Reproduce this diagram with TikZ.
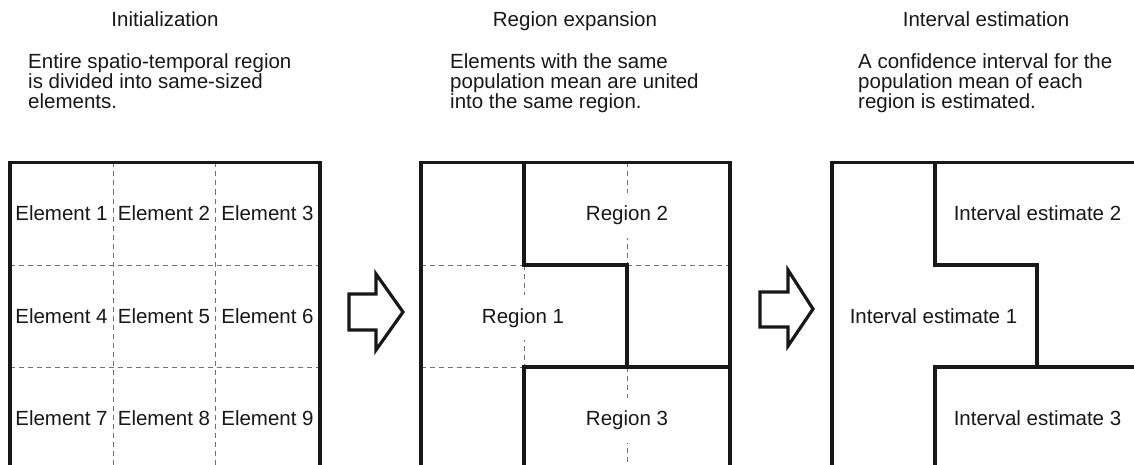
\documentclass[tikz,border=0pt]{standalone}
\usepackage{fontspec}
\setmainfont{Liberation Sans}
\definecolor{ink}{HTML}{1A1718}
\definecolor{dashgray}{HTML}{707070}
\begin{document}
\begin{tikzpicture}[x=1pt,y=-1pt,
  txt/.style={font=\fontsize{20.5}{20.5}\selectfont, text=ink, inner sep=0pt, anchor=base},
  lefttxt/.style={txt, anchor=base west},
  celltxt/.style={txt},
  gaptxt/.style={txt, fill=white, inner xsep=2pt, inner ysep=13pt},
  heavy/.style={draw=ink, line width=3.2pt, line join=miter, line cap=butt},
  grid/.style={draw=dashgray, line width=1pt, dash pattern=on 5pt off 4pt},
  bigarrow/.style={draw=ink, line width=3.2pt, line join=miter, fill=white}]
\clip (0,0) rectangle (1134,465);
\fill[white] (0,0) rectangle (1134,465);

% ---------- headers ----------
\node[txt] (h1) at (165,27) {Initialization};
\node[txt] (h2) at (575,27) {Region expansion};
\node[txt] (h3) at (986,27) {Interval estimation};

% ---------- descriptions ----------
\node[lefttxt] (d1a) at (28,68.5) {Entire spatio-temporal region};
\node[lefttxt] (d1b) at (28,88.5) {is divided into same-sized};
\node[lefttxt] (d1c) at (28,108.5) {elements.};
\node[lefttxt] (d2a) at (450,68.5) {Elements with the same};
\node[lefttxt] (d2b) at (450,88.5) {population mean are united};
\node[lefttxt] (d2c) at (450,108.5) {into the same region.};
\node[lefttxt] (d3a) at (858,68.5) {A confidence interval for the};
\node[lefttxt] (d3b) at (858,88.5) {population mean of each};
\node[lefttxt] (d3c) at (858,108.5) {region is estimated.};

% ---------- panel 1 ----------
\draw[grid] (113,162.5) -- (113,470);
\draw[grid] (215,162.5) -- (215,470);
\draw[grid] (10,265) -- (320,265);
\draw[grid] (10,367) -- (320,367);
\draw[heavy] (10,470) -- (10,162.5) -- (320,162.5) -- (320,470);
\node[celltxt] (e1) at (61.5,220.5) {Element 1};
\node[celltxt] (e2) at (164,220.5) {Element 2};
\node[celltxt] (e3) at (267.5,220.5) {Element 3};
\node[celltxt] (e4) at (61.5,323) {Element 4};
\node[celltxt] (e5) at (164,323) {Element 5};
\node[celltxt] (e6) at (267.5,323) {Element 6};
\node[celltxt] (e7) at (61.5,425.5) {Element 7};
\node[celltxt] (e8) at (164,425.5) {Element 8};
\node[celltxt] (e9) at (267.5,425.5) {Element 9};

% ---------- arrow 1 ----------
\draw[bigarrow] (349,294) -- (376,294) -- (376,274) -- (403,312) -- (376,350) -- (376,330) -- (349,330) -- cycle;

% ---------- panel 2 ----------
\draw[grid] (627,162.5) -- (627,265);
\draw[grid] (421,265) -- (524,265);
\draw[grid] (627,265) -- (730,265);
\draw[grid] (524,265) -- (524,367);
\draw[grid] (421,367) -- (524,367);
\draw[grid] (627,367) -- (627,470);
\node[gaptxt] (r2) at (627,220.5) {Region 2};
\node[gaptxt] (r1) at (523,323) {Region 1};
\node[gaptxt] (r3) at (627,425.5) {Region 3};
\draw[heavy] (421,470) -- (421,162.5) -- (730,162.5) -- (730,470);
\draw[heavy] (524,162.5) -- (524,265) -- (627,265) -- (627,367);
\draw[heavy] (730,367) -- (524,367) -- (524,470);

% ---------- arrow 2 ----------
\draw[bigarrow] (760,292) -- (788,292) -- (788,270) -- (813,309) -- (788,346) -- (788,327) -- (760,327) -- cycle;

% ---------- panel 3 ----------
\draw[heavy] (832,470) -- (832,162.5) -- (1142,162.5);
\draw[heavy] (935,162.5) -- (935,265) -- (1037,265) -- (1037,367);
\draw[heavy] (1142,367) -- (935,367) -- (935,470);
\node[celltxt] (i2) at (1037.5,220.5) {Interval estimate 2};
\node[celltxt] (i1) at (933.5,323) {Interval estimate 1};
\node[celltxt] (i3) at (1037.5,425.5) {Interval estimate 3};
\end{tikzpicture}
\end{document}
